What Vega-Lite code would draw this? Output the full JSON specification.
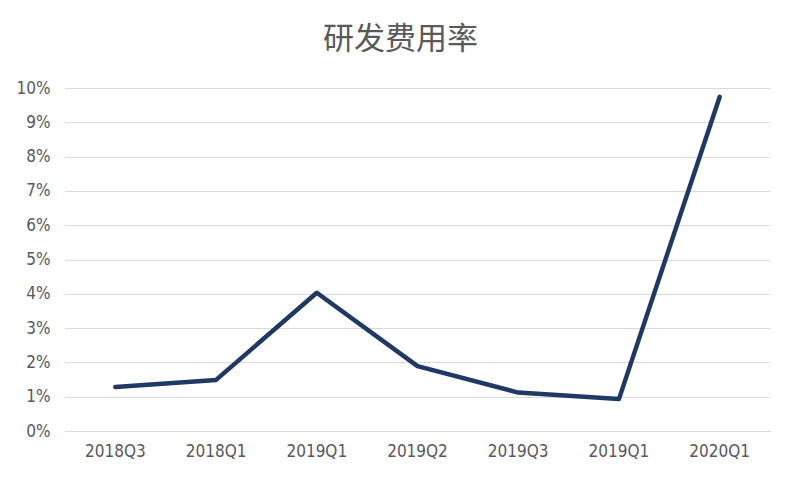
{
  "$schema": "https://vega.github.io/schema/vega-lite/v6.json",
  "width": 705,
  "height": 343,
  "autosize": {"type": "none"},
  "padding": {"left": 65, "top": 88, "right": 31, "bottom": 52},
  "background": "white",
  "title": {
    "text": "研发费用率",
    "font": "Noto Sans CJK SC",
    "fontSize": 31,
    "fontWeight": "normal",
    "color": "#595959",
    "anchor": "middle",
    "dx": -17,
    "offset": 23
  },
  "data": {
    "values": [
      {"quarter": "2018Q3", "rate": 0.0128},
      {"quarter": "2018Q1", "rate": 0.0149},
      {"quarter": "2019Q1", "rate": 0.0403},
      {"quarter": "2019Q2", "rate": 0.0189},
      {"quarter": "2019Q3", "rate": 0.0112},
      {"quarter": "2019Q1 ", "rate": 0.0093},
      {"quarter": "2020Q1", "rate": 0.0974}
    ]
  },
  "mark": {"type": "line", "color": "#203864", "strokeWidth": 4.5, "strokeCap": "round", "strokeJoin": "round"},
  "encoding": {
    "x": {
      "field": "quarter",
      "type": "ordinal",
      "sort": null,
      "scale": {"type": "band", "paddingInner": 0, "paddingOuter": 0},
      "axis": {
        "title": null,
        "labelAngle": 0,
        "labelExpr": "trim(datum.value)",
        "labelFont": "DejaVu Sans Condensed, Liberation Sans, sans-serif",
        "labelFontSize": 17,
        "labelColor": "#595959",
        "labelPadding": 12,
        "ticks": false,
        "domainColor": "#d9d9d9",
        "domainWidth": 1,
        "grid": false
      }
    },
    "y": {
      "field": "rate",
      "type": "quantitative",
      "scale": {"domain": [0, 0.1], "nice": false},
      "axis": {
        "title": null,
        "values": [0, 0.01, 0.02, 0.03, 0.04, 0.05, 0.06, 0.07, 0.08, 0.09, 0.1],
        "format": ".0%",
        "labelFont": "DejaVu Sans Condensed, Liberation Sans, sans-serif",
        "labelFontSize": 17,
        "labelColor": "#595959",
        "labelPadding": 15,
        "ticks": false,
        "domain": false,
        "grid": true,
        "gridColor": "#d9d9d9",
        "gridWidth": 1
      }
    }
  },
  "config": {"view": {"stroke": null}}
}
